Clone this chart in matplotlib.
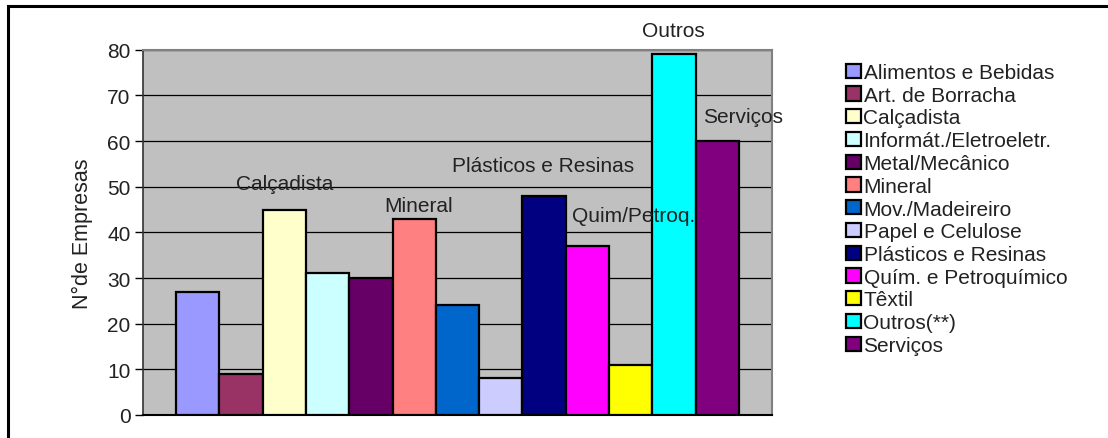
import matplotlib
matplotlib.use("Agg")
import matplotlib.pyplot as plt
from matplotlib.patches import Patch, Rectangle

plt.rcParams['font.family'] = ['Liberation Sans', 'DejaVu Sans']

categories = ["Alimentos e Bebidas", "Art. de Borracha", "Calçadista",
              "Informát./Eletroeletr.", "Metal/Mecânico", "Mineral",
              "Mov./Madeireiro", "Papel e Celulose", "Plásticos e Resinas",
              "Quím. e Petroquímico", "Têxtil", "Outros(**)", "Serviços"]
values = [27, 9, 45, 31, 30, 43, 24, 8, 48, 37, 11, 79, 60]
colors = ["#9999FF", "#993366", "#FFFFCC", "#CCFFFF", "#660066", "#FF8080",
          "#0066CC", "#CCCCFF", "#000080", "#FF00FF", "#FFFF00", "#00FFFF",
          "#800080"]
yticks = [0, 10, 20, 30, 40, 50, 60, 70, 80]
ylabel = "N°de Empresas"

# annotation texts with positions (x in bar index units, y in data units)
ann_texts = ["Calçadista", "Mineral", "Plásticos e Resinas", "Quim/Petroq.", "Outros", "Serviços"]
ann_x = [2.02, 5.09, 7.98, 10.07, 10.98, 12.6]
ann_y = [50.8, 45.8, 54.7, 43.6, 84.3, 65.3]

W, H = 1108, 439
fig = plt.figure(figsize=(W / 100, H / 100), dpi=100)
fig.patch.set_facecolor("white")

ax = fig.add_axes([143 / W, 1 - 416 / H, (772 - 143) / W, (416 - 50.7) / H])
ax.set_facecolor("#C0C0C0")
ax.set_axisbelow(True)

xs = list(range(len(values)))
ax.bar(xs, values, width=1.0, color=colors, edgecolor="black", linewidth=1.6, zorder=3)

ax.set_ylim(0, 80)
ax.set_xlim(-1.26, 13.26)
ax.set_yticks(yticks)
ax.set_yticklabels([str(t) for t in yticks], fontsize=15, color="#222222")
ax.set_xticks([])
ax.yaxis.grid(True, color="black", linewidth=0.9, zorder=0)
ax.tick_params(axis="y", length=6, width=1, color="black", pad=3)

for s in ["top", "right", "bottom"]:
    ax.spines[s].set_color("#808080")
    ax.spines[s].set_linewidth(1.5)
ax.spines["left"].set_color("#333333")
ax.spines["left"].set_linewidth(1.2)
ax.spines["bottom"].set_color("black")

ax.set_ylabel(ylabel, fontsize=15.5, labelpad=10, color="#222222")

for t, x, y in zip(ann_texts, ann_x, ann_y):
    ax.text(x, y, t, ha="center", va="center", fontsize=15, color="#222222",
            zorder=5, clip_on=False)

handles = [Patch(facecolor=c, edgecolor="black", linewidth=1.6) for c in colors]
fig.legend(handles, categories, loc="upper left",
           bbox_to_anchor=(846 / W, 1 - 64 / H), frameon=False,
           fontsize=15, handlelength=0.72, handleheight=0.67,
           handletextpad=0.12, labelspacing=0.18, borderpad=0, borderaxespad=0,
           labelcolor="#222222")

# outer frame (partially cropped)
fig.add_artist(Rectangle((8 / W, -0.2), 2.0, (1 - 6.5 / H) + 0.2,
                         transform=fig.transFigure, fill=False,
                         edgecolor="black", linewidth=2.2))

fig.savefig("out.png", dpi=100)
